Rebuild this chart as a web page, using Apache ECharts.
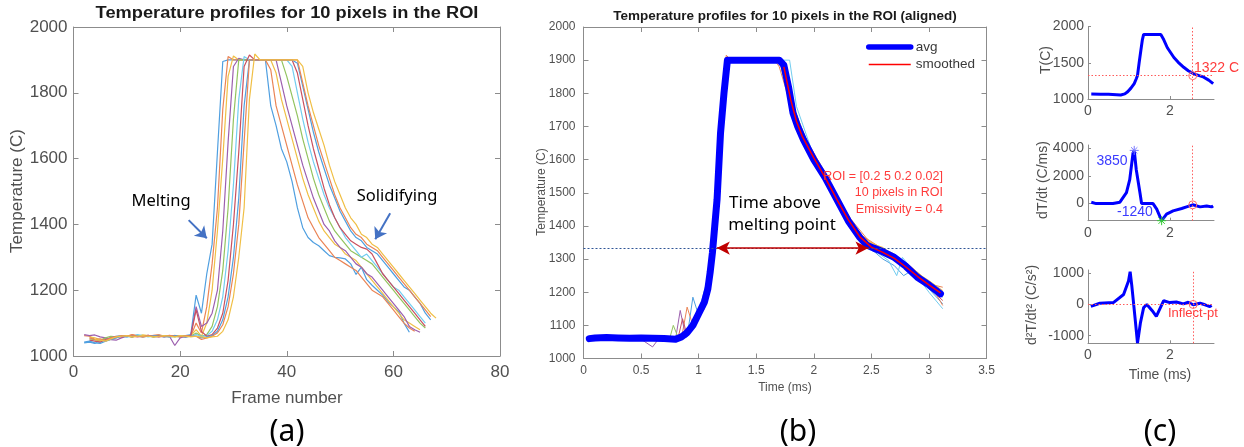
<!DOCTYPE html>
<html><head><meta charset="utf-8">
<script src="https://cdn.jsdelivr.net/npm/echarts@6/dist/echarts.min.js"></script>
<style>html,body{margin:0;padding:0;background:#fff}#c{width:1244px;height:447px}</style>
</head><body><div id="c"></div>
<script>
// ---------- Panel (a): raw profiles, values per frame, first frame in pixelStart ----------
const pixelStart = [2, 2, 3, 2, 3, 4, 3, 2, 3, 4];
const px0 = [1040,1042,1038,1048,1052,1055,1058,1060,1062,1058,1063,1060,1061,1058,1060,1062,1057,1060,1058,1062,1065,
  1185,1130,1250,1340,1620,1895,1900,1900,1900,1900,1900,1900,1900,1900,
  1760,1700,1630,1590,1530,1450,1390,1360,1345,1335,1320,1305,1300,1298,1295,1280,1248,1270,1232,1215,1200,1185,1165,1150,1135,1100,1072];
const px1 = [1062,1060,1050,1045,1048,1052,1058,1062,1060,1065,1062,1058,1060,1063,1065,1060,1058,1062,1060,1058,1060,
  1100,1070,1150,1280,1450,1750,1910,1900,1900,1900,1900,1900,1900,1900,
  1870,1760,1700,1640,1580,1520,1470,1420,1390,1360,1340,1320,1300,1290,1280,1270,1260,1240,1220,1200,1190,1180,1160,1140,1120,1100,1085,1075];
const px2 = [1058,1055,1050,1045,1050,1055,1060,1062,1058,1060,1064,1062,1058,1060,1062,1060,1063,1058,1060,1062,
  1080,1060,1100,1200,1380,1600,1850,1912,1900,1900,1900,1900,1900,1900,1900,
  1860,1780,1720,1660,1600,1540,1490,1450,1410,1380,1360,1340,1330,1310,1300,1290,1270,1250,1230,1210,1190,1170,1150,1130,1110,1100,1090,1080];
const px3 = [1065,1062,1064,1058,1055,1050,1048,1055,1060,1058,1062,1060,1063,1060,1058,1062,1060,1032,1055,1060,1062,
  1150,1090,1100,1130,1200,1380,1650,1880,1905,1900,1900,1900,1900,1900,1900,1900,
  1830,1760,1700,1640,1580,1530,1480,1440,1400,1380,1350,1330,1320,1300,1280,1270,1250,1240,1220,1200,1180,1160,1140,1120,1090,1080,1072];
const px4 = [1052,1050,1048,1055,1060,1058,1062,1060,1058,1063,1060,1062,1058,1060,1062,1060,1058,1060,1062,1060,
  1070,1060,1065,1090,1150,1260,1450,1720,1900,1900,1900,1900,1900,1900,1900,1900,1900,
  1850,1790,1730,1660,1600,1540,1490,1450,1410,1380,1360,1340,1320,1310,1300,1290,1280,1260,1240,1220,1200,1180,1160,1140,1120,1100,1085];
const px5 = [1045,1040,1050,1055,1060,1062,1058,1060,1065,1062,1058,1060,1063,1060,1058,1062,1060,1058,1060,
  1065,1060,1062,1075,1110,1180,1320,1520,1780,1910,1900,1900,1900,1900,1900,1900,1900,1900,
  1880,1800,1720,1650,1590,1540,1490,1450,1420,1390,1360,1340,1320,1300,1310,1290,1270,1250,1230,1210,1200,1180,1160,1140,1120,1100];
const px6 = [1048,1045,1042,1050,1055,1060,1058,1062,1060,1058,1060,1063,1060,1062,1058,1060,1062,1060,1058,1062,
  1140,1075,1060,1065,1085,1130,1230,1400,1620,1880,1915,1900,1900,1900,1900,1900,1900,1900,1900,
  1860,1780,1700,1630,1570,1510,1460,1420,1390,1370,1350,1340,1330,1325,1310,1280,1250,1230,1210,1190,1170,1150,1130,1110,1090];
const px7 = [1042,1045,1040,1038,1045,1050,1055,1060,1058,1062,1060,1058,1060,1062,1060,1058,1060,1062,1060,1058,1060,
  1060,1055,1058,1062,1075,1110,1180,1300,1480,1760,1900,1900,1900,1900,1900,1900,1900,1900,1900,
  1890,1820,1750,1680,1620,1570,1520,1480,1440,1410,1380,1360,1350,1330,1320,1310,1290,1270,1250,1230,1210,1200,1180,1160,1130,1110];
const px8 = [1055,1050,1052,1048,1055,1058,1062,1060,1064,1060,1058,1062,1060,1058,1060,1063,1060,1058,1062,1060,
  1060,1050,1055,1060,1070,1095,1150,1250,1400,1650,1900,1900,1900,1900,1900,1900,1900,1900,1900,1900,
  1830,1760,1700,1640,1590,1540,1490,1450,1420,1390,1370,1360,1340,1330,1320,1300,1280,1260,1240,1220,1200,1180,1160,1140,1120];
const px9 = [1050,1048,1045,1052,1058,1060,1062,1058,1060,1062,1060,1058,1060,1062,1060,1058,1062,1060,1058,
  1060,1058,1055,1058,1060,1075,1110,1180,1300,1450,1780,1918,1900,1900,1900,1900,1900,1900,1900,1900,
  1880,1800,1740,1690,1640,1580,1530,1490,1450,1420,1400,1370,1360,1340,1330,1310,1290,1270,1250,1230,1210,1190,1170,1150,1130,1115];
const pixelSeries = [px0, px1, px2, px3, px4, px5, px6, px7, px8, px9];

// ---------- Panel (b): aligned profiles [time ms, temperature C] ----------
const al0 = [[0.05,1055],[0.2,1062],[0.4,1060],[0.6,1058],[0.8,1062],[0.9,1065],[0.95,1185],[1.0,1130],[1.05,1175],[1.1,1270],[1.15,1480],[1.2,1720],[1.25,1900],[1.7,1900],[1.75,1860],[1.85,1720],[2.0,1610],[2.2,1470],[2.4,1355],[2.5,1330],[2.6,1300],[2.7,1280],[2.78,1250],[2.85,1265],[3.0,1210],[3.12,1165]];
const al1 = [[0.05,1062],[0.3,1058],[0.5,1063],[0.7,1060],[0.85,1060],[0.9,1155],[0.95,1100],[1.05,1150],[1.1,1230],[1.15,1420],[1.2,1700],[1.24,1915],[1.28,1900],[1.66,1900],[1.7,1880],[1.82,1740],[1.9,1680],[2.1,1560],[2.3,1430],[2.5,1345],[2.6,1325],[2.8,1290],[3.0,1230],[3.12,1160]];
const al2 = [[0.05,1058],[0.25,1060],[0.45,1062],[0.65,1058],[0.85,1062],[0.95,1090],[1.05,1160],[1.1,1250],[1.15,1460],[1.2,1760],[1.25,1905],[1.72,1900],[1.8,1790],[1.9,1680],[2.1,1550],[2.3,1420],[2.45,1360],[2.55,1340],[2.7,1315],[2.9,1260],[3.0,1230],[3.12,1200]];
const al3 = [[0.05,1060],[0.3,1060],[0.5,1058],[0.6,1035],[0.65,1058],[0.8,1060],[0.84,1145],[0.88,1080],[0.95,1100],[1.05,1165],[1.12,1330],[1.18,1640],[1.24,1900],[1.7,1900],[1.8,1770],[2.0,1600],[2.2,1475],[2.4,1370],[2.55,1330],[2.7,1300],[2.9,1250],[3.12,1190]];
const al4 = [[0.05,1062],[0.35,1062],[0.55,1060],[0.75,1062],[0.78,1100],[0.82,1065],[0.95,1095],[1.05,1170],[1.12,1320],[1.2,1700],[1.25,1900],[1.7,1900],[1.8,1775],[2.0,1595],[2.2,1480],[2.4,1365],[2.6,1320],[2.8,1270],[3.0,1220],[3.12,1185]];
const al5 = [[0.05,1060],[0.4,1063],[0.7,1060],[0.9,1075],[1.0,1130],[1.1,1260],[1.15,1470],[1.2,1720],[1.26,1900],[1.79,1900],[1.85,1760],[2.0,1610],[2.2,1490],[2.4,1360],[2.55,1320],[2.65,1295],[2.72,1250],[2.77,1305],[2.85,1270],[3.0,1200],[3.12,1150]];
const al6 = [[0.05,1058],[0.3,1062],[0.6,1060],[0.82,1060],[0.86,1120],[0.9,1070],[1.0,1130],[1.1,1265],[1.15,1470],[1.2,1700],[1.25,1900],[1.7,1900],[1.78,1820],[1.9,1665],[2.1,1545],[2.3,1420],[2.5,1340],[2.7,1300],[2.9,1245],[3.12,1175]];
const al7 = [[0.05,1063],[0.5,1062],[0.8,1058],[0.9,1080],[1.0,1140],[1.1,1270],[1.16,1500],[1.22,1820],[1.26,1900],[1.72,1900],[1.8,1780],[2.0,1600],[2.2,1475],[2.4,1365],[2.6,1315],[2.8,1275],[3.0,1215],[3.12,1190]];
const al8 = [[0.05,1060],[0.4,1060],[0.8,1062],[0.92,1075],[1.0,1120],[1.1,1250],[1.16,1480],[1.22,1800],[1.26,1900],[1.7,1900],[1.76,1850],[1.86,1700],[2.0,1620],[2.2,1490],[2.4,1375],[2.6,1330],[2.8,1285],[3.0,1225],[3.12,1215]];
const al9 = [[0.05,1055],[0.3,1058],[0.7,1060],[0.9,1070],[1.0,1125],[1.1,1255],[1.16,1490],[1.22,1810],[1.27,1900],[1.73,1900],[1.82,1760],[2.0,1605],[2.2,1470],[2.4,1360],[2.6,1335],[2.8,1280],[3.0,1235],[3.12,1205]];
const alignedSeries = [al0, al1, al2, al3, al4, al5, al6, al7, al8, al9];
const avgCurve = [[0.05,1060],[0.1,1062],[0.2,1063],[0.3,1062],[0.4,1061],[0.5,1062],[0.6,1061],[0.7,1060],[0.8,1058],[0.85,1065],[0.9,1078],[0.95,1100],[1.0,1135],[1.05,1170],[1.08,1210],[1.1,1260],[1.12,1320],[1.14,1400],[1.16,1480],[1.19,1680],[1.22,1800],[1.25,1900],[1.4,1900],[1.55,1900],[1.7,1900],[1.74,1885],[1.78,1820],[1.82,1740],[1.86,1700],[1.91,1660],[2.0,1600],[2.1,1545],[2.2,1480],[2.3,1415],[2.4,1365],[2.46,1342],[2.52,1333],[2.58,1325],[2.7,1305],[2.8,1278],[2.9,1245],[3.0,1222],[3.1,1195]];
const smoothedCurve = [[1.74,1880],[1.8,1780],[1.85,1715],[1.9,1670],[2.0,1605],[2.1,1545],[2.2,1480],[2.3,1418],[2.4,1367],[2.5,1336],[2.6,1320],[2.7,1302],[2.8,1276],[2.9,1248],[3.0,1222],[3.1,1198]];
const meltingPoint = 1333;
const meltInterval = [1.158, 2.475];

// ---------- Panel (c): T, dT/dt, d2T/dt2 ----------
const cTemp = [[0.08,1068],[0.3,1065],[0.5,1065],[0.7,1060],[0.8,1055],[0.9,1070],[0.97,1100],[1.05,1150],[1.13,1212],[1.18,1280],[1.21,1324],[1.25,1500],[1.29,1662],[1.33,1820],[1.36,1890],[1.78,1890],[1.85,1820],[1.94,1707],[2.1,1572],[2.2,1510],[2.34,1437],[2.45,1390],[2.59,1347],[2.7,1325],[2.83,1301],[2.95,1260],[3.06,1212]];
const cDeriv1 = [[0.08,100],[0.2,0],[0.61,0],[0.78,100],[0.94,785],[1.02,1735],[1.1,3640],[1.13,3850],[1.18,2450],[1.27,785],[1.31,0],[1.59,0],[1.68,-400],[1.8,-1240],[1.92,-760],[2.08,-530],[2.29,-360],[2.41,-240],[2.56,-90],[2.74,-240],[2.9,-170],[3.02,-240],[3.06,-170]];
const cDeriv2 = [[0.07,-60],[0.29,40],[0.62,60],[0.87,320],[0.99,750],[1.03,1050],[1.07,610],[1.15,-430],[1.21,-1240],[1.28,-600],[1.36,-100],[1.44,0],[1.57,-200],[1.67,-380],[1.77,-100],[1.85,120],[2.0,60],[2.16,80],[2.33,20],[2.45,70],[2.57,-10],[2.74,40],[2.86,-10],[2.98,-70],[3.02,-30]];
const solidusTemp = 1322;
const inflectTime = 2.56;
const peakRate = [1.13, 3850];
const minRate = [1.8, -1240];

const pixelColors = ['#4f9fe0','#ea8455','#f0bf45','#9c5fae','#93c35f','#72cdf0','#c9505f','#4f9fe0','#ea8455','#f0bf45'];

const AX = '#8c8c8c', LBL = '#505050', FONT = 'Liberation Sans';
function valAxis(o) {
  return {
    type: 'value', gridIndex: o.grid, min: o.min, max: o.max, interval: o.interval, position: o.position,
    axisLine: { show: true, onZero: false, lineStyle: { color: AX, width: 1 } },
    axisTick: Object.assign({ show: true, inside: true, length: o.tick || 5, lineStyle: { color: AX } }, o.tickCustom ? { customValues: o.tickCustom } : {}),
    axisLabel: Object.assign({ show: o.label !== false, color: LBL, fontFamily: FONT, fontSize: o.fs || 12, margin: o.margin || 6,
      showMaxLabel: o.showMax !== false, formatter: (v) => String(v) }, o.tickCustom ? { customValues: o.tickCustom } : {}),
    splitLine: { show: false }
  };
}

const xAxes = [
  valAxis({ grid: 0, min: 0, max: 80, interval: 20, fs: 17, margin: 8 }),
  valAxis({ grid: 0, min: 0, max: 80, interval: 20, position: 'top', label: false }),
  valAxis({ grid: 1, min: 0, max: 3.5, interval: 0.5, fs: 12, margin: 6 }),
  valAxis({ grid: 1, min: 0, max: 3.5, interval: 0.5, position: 'top', label: false }),
  valAxis({ grid: 2, min: 0, max: 3.08, interval: 2, fs: 14, margin: 5, tick: 3, showMax: false }),
  valAxis({ grid: 3, min: 0, max: 3.08, interval: 2, fs: 14, margin: 5, tick: 3, showMax: false }),
  valAxis({ grid: 4, min: 0, max: 3.08, interval: 2, fs: 14, margin: 5, tick: 3, showMax: false })
];
const yAxes = [
  valAxis({ grid: 0, min: 1000, max: 2000, interval: 200, fs: 17, margin: 6 }),
  valAxis({ grid: 0, min: 1000, max: 2000, interval: 200, position: 'right', label: false }),
  valAxis({ grid: 1, min: 1000, max: 2000, interval: 100, fs: 12, margin: 8 }),
  valAxis({ grid: 1, min: 1000, max: 2000, interval: 100, position: 'right', label: false }),
  valAxis({ grid: 2, min: 1000, max: 2000, interval: 500, fs: 14, margin: 4, tick: 3 }),
  valAxis({ grid: 3, min: -1240, max: 4240, fs: 14, margin: 4, tick: 3, tickCustom: [0, 2000, 4000] }),
  valAxis({ grid: 4, min: -1245, max: 1105, fs: 14, margin: 4, tick: 3, tickCustom: [-1000, 0, 1000] })
];

const series = [];
pixelSeries.forEach((vals, k) => {
  const s = {
    name: 'pixel ' + (k + 1), type: 'line', xAxisIndex: 0, yAxisIndex: 0, symbol: 'none',
    data: vals.map((v, i) => [pixelStart[k] + i, v]),
    lineStyle: { width: 1.2, color: pixelColors[k] }, itemStyle: { color: pixelColors[k] }, silent: true
  };
  if (k === 0) {
    s.markLine = {
      silent: true, symbol: ['none', 'arrow'], symbolSize: 11, label: { show: false },
      lineStyle: { color: '#4472C4', width: 2, type: 'solid' },
      data: [
        [{ coord: [21.6, 1413] }, { coord: [25.0, 1358] }],
        [{ coord: [59.4, 1434] }, { coord: [56.6, 1355] }]
      ]
    };
  }
  series.push(s);
});
alignedSeries.forEach((pts, k) => {
  const s = {
    name: 'aligned ' + (k + 1), type: 'line', xAxisIndex: 2, yAxisIndex: 2, symbol: 'none', data: pts,
    lineStyle: { width: 1, color: pixelColors[k] }, itemStyle: { color: pixelColors[k] }, silent: true
  };
  if (k === 0) {
    s.markLine = {
      silent: true, symbol: 'none', label: { show: false },
      lineStyle: { color: '#2f5597', width: 1, type: [2, 2] },
      data: [{ yAxis: meltingPoint }]
    };
  }
  series.push(s);
});
series.push({
  name: 'avg', type: 'line', xAxisIndex: 2, yAxisIndex: 2, symbol: 'none', data: avgCurve,
  lineStyle: { width: 7, color: '#0000ff', join: 'round', cap: 'round' }, itemStyle: { color: '#0000ff' }, silent: true
});
series.push({
  name: 'smoothed', type: 'line', xAxisIndex: 2, yAxisIndex: 2, symbol: 'none', data: smoothedCurve,
  lineStyle: { width: 1.5, color: '#ff0000' }, itemStyle: { color: '#ff0000' }, silent: true,
  markLine: {
    silent: true, symbol: ['arrow', 'arrow'], symbolSize: [10, 13], label: { show: false },
    lineStyle: { color: '#c00000', width: 1.5, type: 'solid' },
    data: [[{ coord: [meltInterval[0], meltingPoint] }, { coord: [meltInterval[1], meltingPoint] }]]
  }
});
const redDot = { color: '#ff5a5a', width: 1, type: [1.5, 2] };
const ring = (c) => ({ coord: c, symbol: 'circle', symbolSize: 8, itemStyle: { color: 'rgba(0,0,0,0)', borderColor: '#ff6a6a', borderWidth: 1 }, label: { show: false } });
const star = 'path://M0,-5L0,5M-5,0L5,0M-3.5,-3.5L3.5,3.5M-3.5,3.5L3.5,-3.5';
series.push({
  name: 'T', type: 'line', xAxisIndex: 4, yAxisIndex: 4, symbol: 'none', data: cTemp,
  lineStyle: { width: 3, color: '#0000ff' }, silent: true,
  markLine: { silent: true, symbol: 'none', label: { show: false }, lineStyle: redDot, data: [{ yAxis: solidusTemp }, { xAxis: inflectTime }] },
  markPoint: { silent: true, data: [ring([inflectTime, solidusTemp])] }
});
series.push({
  name: 'dTdt', type: 'line', xAxisIndex: 5, yAxisIndex: 5, symbol: 'none', data: cDeriv1,
  lineStyle: { width: 3, color: '#0000ff' }, silent: true,
  markLine: { silent: true, symbol: 'none', label: { show: false }, lineStyle: redDot, data: [{ xAxis: inflectTime }] },
  markPoint: { silent: true, data: [
    ring([inflectTime, -90]),
    { coord: peakRate, symbol: star, symbolSize: 9, itemStyle: { color: 'rgba(0,0,0,0)', borderColor: '#7a7aff', borderWidth: 1 }, label: { show: false } },
    { coord: minRate, symbol: star, symbolSize: 9, itemStyle: { color: 'rgba(0,0,0,0)', borderColor: '#33cc33', borderWidth: 1 }, label: { show: false } }
  ] }
});
series.push({
  name: 'd2Tdt2', type: 'line', xAxisIndex: 6, yAxisIndex: 6, symbol: 'none', data: cDeriv2,
  lineStyle: { width: 3, color: '#0000ff' }, silent: true,
  markLine: { silent: true, symbol: 'none', label: { show: false }, lineStyle: redDot, data: [{ yAxis: 0 }, { xAxis: inflectTime + 0.01 }] },
  markPoint: { silent: true, data: [ring([inflectTime + 0.01, 0])] }
});

function txt(text, x, y, o) {
  o = o || {};
  return {
    type: 'text', x: x, y: y, rotation: o.rot || 0, scaleX: o.sx || 1, silent: true, z: 100,
    style: {
      text: text, fill: o.color || '#000', fontSize: o.size || 12, fontFamily: o.family || FONT,
      fontWeight: o.weight || 'normal', align: o.align || 'center', verticalAlign: 'middle'
    }
  };
}
const CAL = 'Noto Sans';
const graphics = [
  txt('Temperature profiles for 10 pixels in the ROI', 287, 14, { size: 16, sx: 1.14, weight: 'bold', color: '#1a1a1a' }),
  txt('Temperature (C)', 17, 191, { size: 17, rot: Math.PI / 2, color: LBL }),
  txt('Frame number', 287, 398, { size: 17, color: LBL }),
  txt('(a)', 287, 432, { size: 30, family: CAL }),
  txt('Melting', 161, 201, { size: 16.5, family: CAL }),
  txt('Solidifying', 397, 196, { size: 16.5, family: CAL }),
  txt('Temperature profiles for 10 pixels in the ROI (aligned)', 785, 16.5, { size: 13.5, weight: 'bold', color: '#1a1a1a' }),
  txt('Temperature (C)', 542, 192, { size: 12, rot: Math.PI / 2, color: LBL }),
  txt('Time (ms)', 785, 388, { size: 12, color: LBL }),
  txt('(b)', 798, 432, { size: 30, family: CAL }),
  txt('ROI = [0.2 5 0.2 0.02]', 943, 177, { size: 12.5, color: '#ff3b3b', align: 'right' }),
  txt('10 pixels in ROI', 943, 193, { size: 12.5, color: '#ff3b3b', align: 'right' }),
  txt('Emissivity = 0.4', 943, 210, { size: 12.5, color: '#ff3b3b', align: 'right' }),
  txt('Time above', 775, 203, { size: 17, family: CAL }),
  txt('melting point', 782, 225, { size: 17, family: CAL }),
  txt('T(C)', 1046, 60, { size: 14, rot: Math.PI / 2, color: LBL }),
  txt('1322 C', 1194, 68, { size: 14, color: '#ff3b3b', align: 'left' }),
  txt('dT/dt (C/ms)', 1043, 180, { size: 14, rot: Math.PI / 2, color: LBL }),
  txt('3850', 1112, 161, { size: 14, color: '#3b3bff' }),
  txt('-1240', 1135, 212, { size: 14, color: '#3b3bff' }),
  txt('d\u00B2T/dt\u00B2 (C/s\u00B2)', 1032, 305, { size: 14, rot: Math.PI / 2, color: LBL }),
  txt('Inflect-pt', 1168, 313, { size: 13, color: '#ff3b3b', align: 'left' }),
  txt('Time (ms)', 1160, 375, { size: 14, color: LBL }),
  txt('(c)', 1160, 432, { size: 30, family: CAL })
];

const hiddenSym = { color: 'rgba(0,0,0,0)', borderColor: 'rgba(0,0,0,0)', borderWidth: 0, opacity: 0 };
const chart = echarts.init(document.getElementById('c'), null, { renderer: 'canvas' });
chart.setOption({
  animation: false,
  backgroundColor: '#ffffff',
  grid: [
    { left: 73.5, top: 27, width: 426.5, height: 329, containLabel: false, outerBoundsMode: 'none' },
    { left: 583.5, top: 27, width: 403, height: 331.5, containLabel: false, outerBoundsMode: 'none' },
    { left: 1088, top: 26.5, width: 126, height: 72.5, containLabel: false, outerBoundsMode: 'none' },
    { left: 1088, top: 145, width: 126, height: 75.7, containLabel: false, outerBoundsMode: 'none' },
    { left: 1088, top: 270, width: 126, height: 73.3, containLabel: false, outerBoundsMode: 'none' }
  ],
  xAxis: xAxes,
  yAxis: yAxes,
  legend: [{
    data: [
      { name: 'avg', lineStyle: { width: 5.5, color: '#0000ff', opacity: 1 }, itemStyle: hiddenSym },
      { name: 'smoothed', lineStyle: { width: 1.5, color: '#ff0000', opacity: 1 }, itemStyle: hiddenSym }
    ],
    left: 866, top: 40, orient: 'vertical', itemWidth: 42, itemHeight: 14, itemGap: 3.5, padding: 0,
    textStyle: { fontSize: 13.5, color: '#3a3a3a', fontFamily: FONT }, selectedMode: false
  }],
  series: series,
  graphic: graphics
});
</script></body></html>
